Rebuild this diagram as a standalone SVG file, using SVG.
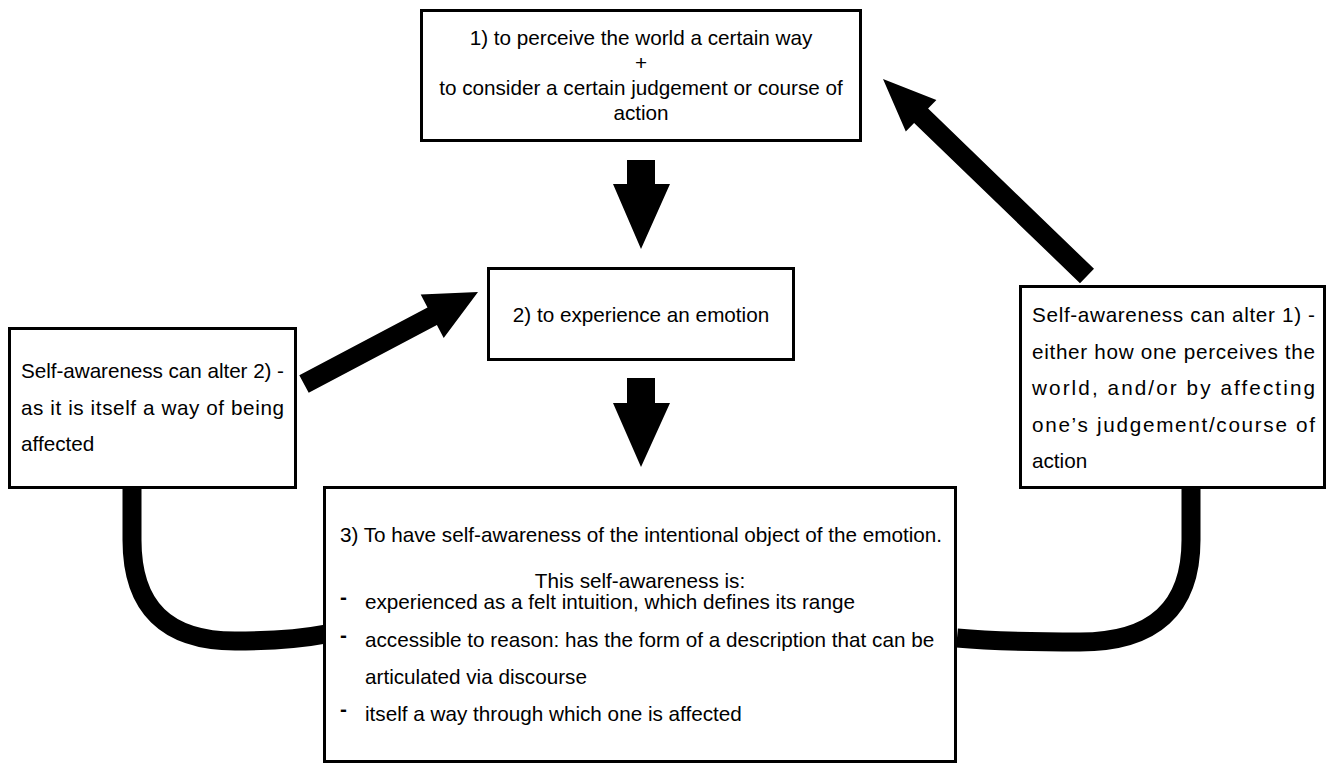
<svg xmlns="http://www.w3.org/2000/svg" width="1328" height="765" viewBox="0 0 1328 765">
<style>
.box{fill:#fff;stroke:#000;stroke-width:3}
.t{font-family:"Liberation Sans",Arial,Helvetica,sans-serif;font-size:20.7px;fill:#000}
.c{text-anchor:middle}
.d{font-weight:bold}
.arrow{fill:#000}
.curve{fill:none;stroke:#000;stroke-width:19}
</style>
<rect width="1328" height="765" fill="#fff"/>
<g id="connectors">
<polygon class="arrow" points="627,160 655,160 655,184 670,184 641,249 613,184 627,184"/>
<polygon class="arrow" points="627,378 655,378 655,403 670,403 641,467 613,403 627,403"/>
<polygon class="arrow" points="308.7,392.8 436.9,325.1 443.7,338.1 478,292 420.7,294.5 427.5,307.5 299.3,375.2"/>
<polygon class="arrow" points="1094,268.8 928.1,108.6 936.4,100 883,79 905.8,131.6 914.1,123 1080,283.2"/>
<path class="curve" d="M132 488 L132 540 Q132 641 235 641 Q290 641 326 634"/>
<path class="curve" d="M1191 488 L1191 540 Q1191 642 1080 642 Q1000 642 957 638"/>
</g>
<g id="node1">
<rect class="box" x="421.5" y="10.5" width="439" height="130"/>
<text class="t c" x="641" y="45">1) to perceive the world a certain way</text>
<text class="t c" x="641" y="70">+</text>
<text class="t c" x="641" y="95">to consider a certain judgement or course of</text>
<text class="t c" x="641" y="120">action</text>
</g>
<g id="node2">
<rect class="box" x="488.5" y="268.5" width="305" height="91"/>
<text class="t c" x="641" y="322">2) to experience an emotion</text>
</g>
<g id="node-left">
<rect class="box" x="9.5" y="328.5" width="286" height="159"/>
<text class="t" x="21" y="378" textLength="263" lengthAdjust="spacing">Self-awareness can alter 2) -</text>
<text class="t" x="21" y="414.5" textLength="263" lengthAdjust="spacing">as it is itself a way of being</text>
<text class="t" x="21" y="451">affected</text>
</g>
<g id="node-right">
<rect class="box" x="1020.5" y="286.5" width="304" height="201"/>
<text class="t" x="1032" y="322" textLength="283" lengthAdjust="spacing">Self-awareness can alter 1) -</text>
<text class="t" x="1032" y="358.5" textLength="283" lengthAdjust="spacing">either how one perceives the</text>
<text class="t" x="1032" y="395" textLength="283" lengthAdjust="spacing">world, and/or by affecting</text>
<text class="t" x="1032" y="431.5" textLength="283" lengthAdjust="spacing">one’s judgement/course of</text>
<text class="t" x="1032" y="468">action</text>
</g>
<g id="node3">
<rect class="box" x="324.5" y="487.5" width="631" height="274"/>
<text class="t c" x="641" y="542">3) To have self-awareness of the intentional object of the emotion.</text>
<text class="t c" x="640" y="588">This self-awareness is:</text>
<text class="t d" x="340" y="604">-</text>
<text class="t" x="365" y="609">experienced as a felt intuition, which defines its range</text>
<text class="t d" x="340" y="642">-</text>
<text class="t" x="365" y="647">accessible to reason: has the form of a description that can be</text>
<text class="t" x="365" y="684">articulated via discourse</text>
<text class="t d" x="340" y="716">-</text>
<text class="t" x="365" y="721">itself a way through which one is affected</text>
</g>
</svg>
